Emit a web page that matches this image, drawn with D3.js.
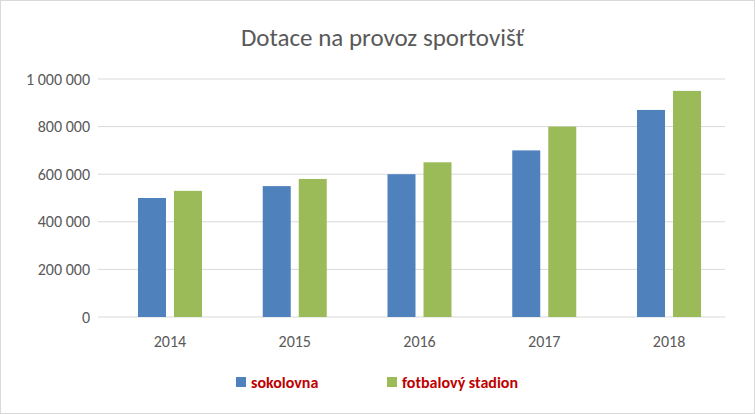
<!DOCTYPE html>
<html><head><meta charset="utf-8">
<script src="https://cdn.jsdelivr.net/npm/d3@7"></script>
<style>body{margin:0;background:#fff}</style>
</head><body>
<script>
const years = ["2014", "2015", "2016", "2017", "2018"];
const sokolovna = [500000, 550000, 600000, 700000, 870000];
const fotbal = [530000, 580000, 650000, 800000, 950000];
const yTicks = [0, 200000, 400000, 600000, 800000, 1000000];

const W = 755, H = 414;
const margin = {top: 79, right: 30, bottom: 97, left: 98};
const width = W - margin.left - margin.right, height = H - margin.top - margin.bottom;

const svg = d3.select("body").append("svg").attr("width", W).attr("height", H)
  .style("font-family", "Calibri, Carlito, 'Liberation Sans', sans-serif");

svg.append("rect").attr("x", 0.5).attr("y", 0.5).attr("width", W - 1).attr("height", H - 1)
  .attr("fill", "#fff").attr("stroke", "#d9d9d9");

svg.append("text").attr("x", W / 2 + 5).attr("y", 46).attr("text-anchor", "middle")
  .attr("font-size", 25).attr("fill", "#595959").text("Dotace na provoz sportovišť");

const g = svg.append("g").attr("transform", `translate(${margin.left},${margin.top})`);

const x = d3.scaleBand().domain(years).range([9.6, 633.4]);
const y = d3.scaleLinear().domain([0, 1000000]).range([height, 0]);
const fmt = v => d3.format(",")(v).replace(/,/g, " ");

g.selectAll(".grid").data(yTicks).enter().append("line")
  .attr("x1", 0).attr("x2", width).attr("y1", d => y(d)).attr("y2", d => y(d))
  .attr("stroke", "#d9d9d9");

g.selectAll(".yl").data(yTicks).enter().append("text")
  .attr("x", -8).attr("y", d => y(d)).attr("dy", "0.35em").attr("text-anchor", "end")
  .attr("font-size", 16).attr("fill", "#595959").text(fmt);

const bw = 28, gap = 8;
const series = [{vals: sokolovna, color: "#4f81bd", off: -bw - gap / 2}, {vals: fotbal, color: "#9bbb59", off: gap / 2}];
series.forEach(s => {
  g.selectAll(null).data(years).enter().append("rect")
    .attr("x", (d) => x(d) + x.bandwidth() / 2 + s.off)
    .attr("y", (d, i) => y(s.vals[i])).attr("width", bw)
    .attr("height", (d, i) => height - y(s.vals[i])).attr("fill", s.color);
});

g.selectAll(".xl").data(years).enter().append("text")
  .attr("x", d => x(d) + x.bandwidth() / 2).attr("y", height + 30).attr("text-anchor", "middle")
  .attr("font-size", 16).attr("fill", "#595959").text(d => d);

const legend = [{name: "sokolovna", color: "#4f81bd", x: 236}, {name: "fotbalový stadion", color: "#9bbb59", x: 387}];
legend.forEach(l => {
  svg.append("rect").attr("x", l.x).attr("y", 377).attr("width", 10).attr("height", 10).attr("fill", l.color);
  svg.append("text").attr("x", l.x + 15).attr("y", 388).attr("font-size", 16).attr("font-weight", "bold")
    .attr("fill", "#c00000").text(l.name);
});
</script>
</body></html>
